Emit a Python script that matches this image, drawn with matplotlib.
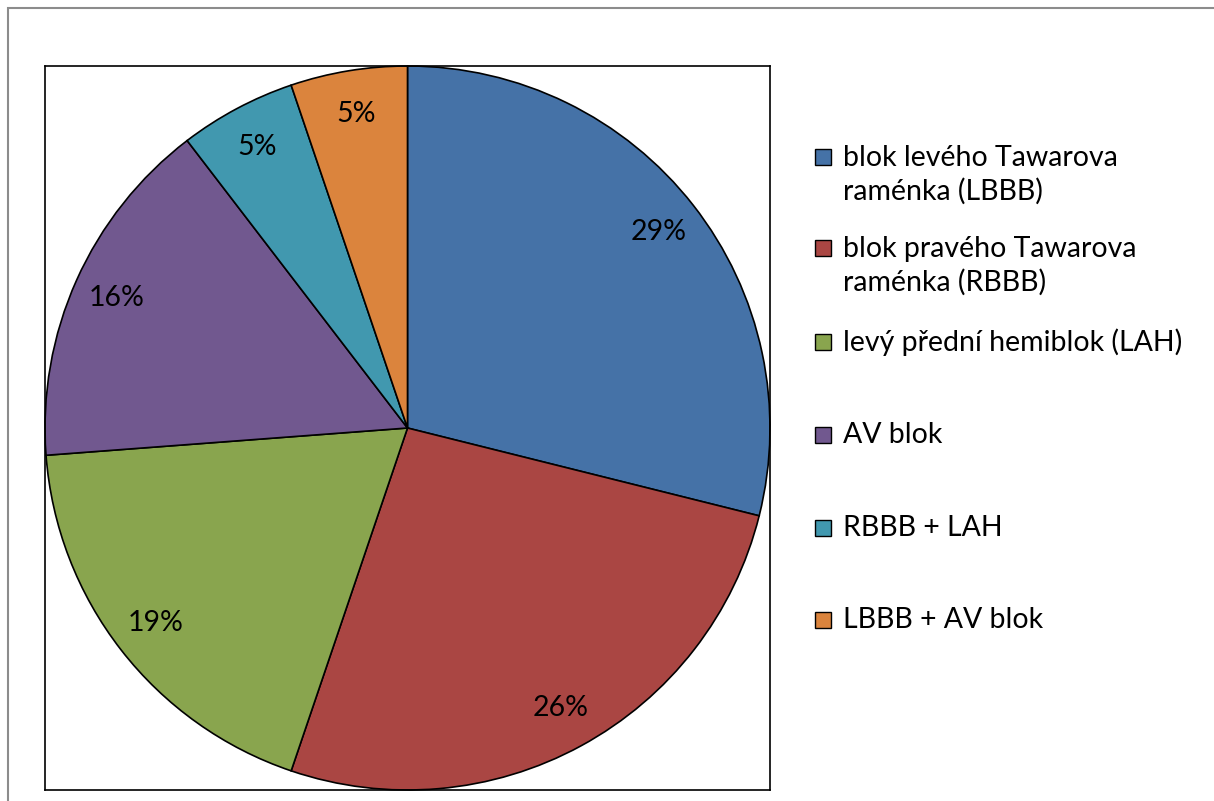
import matplotlib.pyplot as plt
from matplotlib.patches import Rectangle

categories = ['blok levého Tawarova\nraménka (LBBB)',
              'blok pravého Tawarova\nraménka (RBBB)',
              'levý přední hemiblok (LAH)',
              'AV blok',
              'RBBB + LAH',
              'LBBB + AV blok']
values = [28.9, 26.3, 18.6, 15.8, 5.2, 5.2]
colors = ['#4572A7', '#AA4643', '#89A54E', '#71588F', '#4198AF', '#DB843D']

plt.rcParams['font.family'] = ['Lato', 'DejaVu Sans']

W, H = 1214, 801
fig = plt.figure(figsize=(W / 100, H / 100), dpi=100)

# outer chart frame (runs off the right/bottom edge like the screenshot)
fig.patches.append(Rectangle((8 / W, -0.05), 1.2, 1 - 8 / H + 0.05, transform=fig.transFigure,
                             fill=False, edgecolor='#8c8c8c', linewidth=1.5))

ax = fig.add_axes([45 / W, 11 / H, 725 / W, 724 / H])
wedges, texts, autotexts = ax.pie(values, colors=colors, startangle=90, counterclock=False,
                                  autopct='%.0f%%', pctdistance=0.88, frame=True,
                                  wedgeprops=dict(edgecolor='black', linewidth=1.2),
                                  textprops=dict(fontsize=20.5, color='black'))
ax.set_xlim(-1, 1)
ax.set_ylim(-1, 1)
ax.set_aspect('auto')
ax.set_xticks([])
ax.set_yticks([])
for s in ax.spines.values():
    s.set_linewidth(1.2)
    s.set_color('black')

# legend drawn by hand so the box sits on the first text line
centers = [175, 266, 342, 435, 528, 620]
for lab, col, yc in zip(categories, colors, centers):
    n = lab.count('\n') + 1
    ym = yc - (n - 1) * 18
    fig.patches.append(Rectangle((815 / W, 1 - (ym + 8) / H), 16 / W, 16 / H,
                                 transform=fig.transFigure, facecolor=col,
                                 edgecolor='black', linewidth=1))
    fig.text(843 / W, 1 - yc / H, lab, fontsize=20.5, va='center', ha='left',
             linespacing=1.3)

fig.savefig('out.png', dpi=100)
